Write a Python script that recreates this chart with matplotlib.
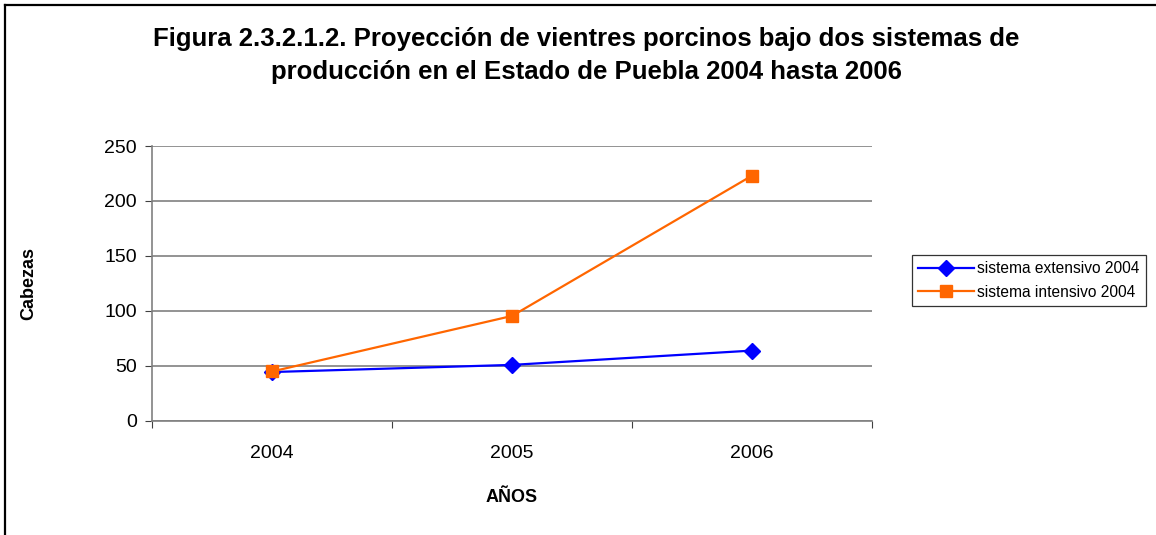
import matplotlib
matplotlib.use('Agg')
import matplotlib.pyplot as plt
from matplotlib.lines import Line2D

plt.rcParams['font.family'] = ['Liberation Sans', 'DejaVu Sans']

# data
years = ['2004', '2005', '2006']
extensivo = [44.5, 51, 64]
intensivo = [45, 95.5, 223]
y_ticks = [0, 50, 100, 150, 200, 250]

fig = plt.figure(figsize=(11.56, 5.35), dpi=100)
ax = fig.add_axes([0.1315, 0.2131, 0.6228, 0.514])

x = list(range(len(years)))
ax.plot(x, extensivo, color='#0000FF', lw=1.6, marker='D', ms=8,
        label='sistema extensivo 2004', zorder=3)
ax.plot(x, intensivo, color='#FF6600', lw=1.6, marker='s', ms=8,
        label='sistema intensivo 2004', zorder=3)

ax.set_xlim(-0.5, 2.5)
ax.set_ylim(0, 250)
ax.set_yticks(y_ticks)
ax.set_xticks([-0.5, 0.5, 1.5, 2.5], minor=False)
ax.set_xticklabels([])
ax.set_xticks(x, minor=True)
ax.set_xticklabels(years, minor=True)
ax.tick_params(axis='x', which='minor', length=0, pad=17, labelsize=14)
ax.tick_params(axis='x', which='major', length=5, color='#404040', direction='out')
ax.tick_params(axis='y', length=5, color='#404040', direction='out', labelsize=14, pad=6)

ax.grid(axis='y', color='#808080', lw=1.2)
ax.set_axisbelow(True)
for side in ['top', 'right']:
    ax.spines[side].set_visible(False)
ax.spines['left'].set_color('#808080')
ax.spines['bottom'].set_color('#808080')
ax.spines['left'].set_linewidth(1.2)
ax.spines['bottom'].set_linewidth(1.2)

ax.set_ylabel('Cabezas', fontsize=13, fontweight='bold', labelpad=48)
ax.set_xlabel('AÑOS', fontsize=13, fontweight='bold', labelpad=20)

fig.text(0.507, 0.896, 'Figura 2.3.2.1.2. Proyección de vientres porcinos bajo dos sistemas de\n'
         'producción en el Estado de Puebla 2004 hasta 2006',
         ha='center', va='center', fontsize=18.5, fontweight='bold', linespacing=1.45)

leg = fig.legend(loc='upper left', bbox_to_anchor=(912 / 1156, 1 - 255 / 535),
                 fontsize=11.2, frameon=True, fancybox=False, borderaxespad=0,
                 handlelength=3.6, handletextpad=0.2, labelspacing=0.55,
                 borderpad=0.4)
leg.get_frame().set_edgecolor('black')
leg.get_frame().set_linewidth(0.9)

# outer chart frame (only top and left edges visible)
fig.add_artist(Line2D([5 / 1156, 5 / 1156], [0, 1 - 5 / 535], color='black', lw=1.6))
fig.add_artist(Line2D([5 / 1156, 1], [1 - 5 / 535, 1 - 5 / 535], color='black', lw=1.6))

fig.savefig('out.png', dpi=100)
